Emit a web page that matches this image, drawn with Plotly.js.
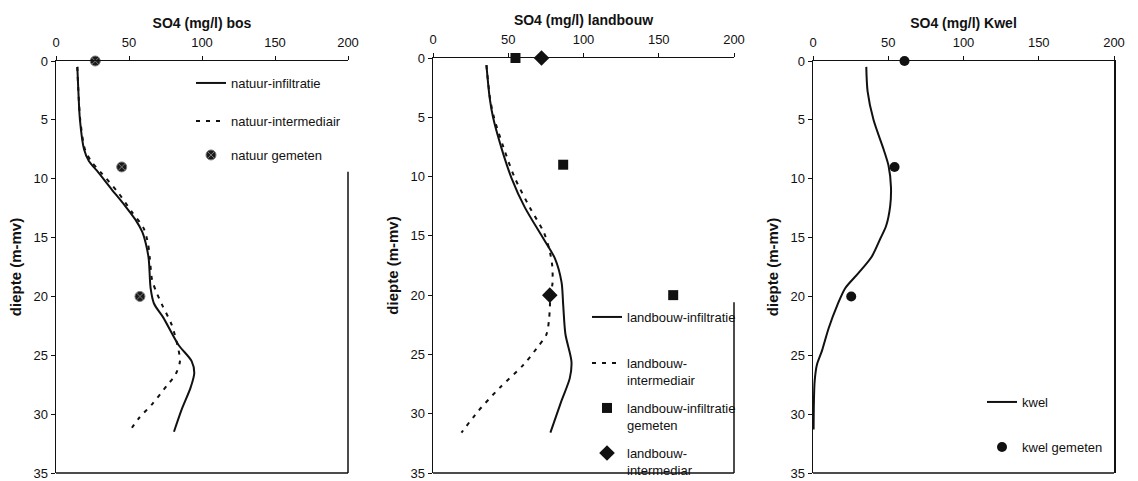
<!DOCTYPE html>
<html>
<head>
<meta charset="utf-8">
<script src="https://cdn.plot.ly/plotly-3.0.1.min.js"></script>
<style>
  html, body { margin: 0; padding: 0; background: #fff; overflow: hidden; }
  #chart { width: 1138px; height: 481px; }
</style>
</head>
<body>
<div id="chart"></div>
<script>
// SO4 depth profiles (mg/l) for forest, agriculture and seepage areas

// --- bos (forest) ---
const natuurInfDepth = [0.5, 2.5, 5, 7.5, 8.5, 9.3, 10.9, 12.3, 13.5, 14.5, 15.5, 16.8, 19.3, 20.6, 21.8, 24.1, 25.5, 26.5, 27.7, 29.6, 31.5];
const natuurInfSO4   = [14.6, 15.3, 16.4, 19.2, 22.5, 27.9, 38.1, 47.3, 54.5, 59.0, 61.5, 63.5, 64.8, 67.1, 73.5, 83.8, 92.9, 94.7, 92.3, 86.1, 80.8];

const natuurIntDepth = [0.5, 2.5, 5, 7.5, 8.5, 9.5, 11.2, 12.8, 14.2, 15.5, 16.8, 18.6, 19.7, 20.7, 22.4, 24.1, 25.5, 26.6, 27.6, 29.1, 30.4, 31.4];
const natuurIntSO4   = [14.6, 15.3, 16.6, 19.8, 24.0, 31.0, 42.7, 51.8, 60.0, 63.0, 64.3, 65.8, 69.0, 72.6, 79.2, 83.1, 84.9, 82.0, 75.8, 66.2, 56.4, 50.7];

const natuurMeasDepth = [0, 9, 20];
const natuurMeasSO4   = [26.9, 45.0, 57.5];

// --- landbouw (agriculture) ---
const landInfDepth = [0.6, 3.4, 5, 7.6, 10.1, 12.6, 15.2, 16.9, 18.9, 20.8, 23.3, 25.6, 27.0, 28.9, 31.6];
const landInfSO4   = [35.5, 37.7, 39.9, 45.5, 52.1, 61.0, 73.2, 81.0, 85.4, 86.5, 88.0, 92.0, 90.9, 85.4, 78.0];

const landIntDepth = [0.6, 3.4, 5, 7.6, 10.1, 12.6, 14.7, 16.1, 17.5, 19.0, 20.0, 21.9, 23.3, 24.5, 25.9, 27.8, 29.8, 31.6];
const landIntSO4   = [35.5, 37.9, 40.5, 47.0, 54.3, 64.3, 73.6, 77.2, 79.2, 79.4, 78.1, 77.2, 75.4, 68.8, 59.9, 44.4, 29.9, 18.9];

const landInfMeasDepth = [0, 9, 20];
const landInfMeasSO4   = [54.8, 86.5, 159.6];

const landIntMeasDepth = [0, 20];
const landIntMeasSO4   = [72.1, 77.6];

// --- kwel (seepage) ---
const kwelDepth = [0.5, 2.6, 5, 7.5, 8.9, 10.7, 12.3, 14.0, 15.1, 16.6, 18.0, 19.3, 20.7, 22.7, 24.6, 25.8, 27.2, 29.0, 31.3];
const kwelSO4   = [35.4, 36.3, 40.2, 46.9, 50.2, 51.8, 51.3, 48.6, 44.7, 39.1, 30.3, 21.4, 16.3, 10.4, 6.0, 2.6, 1.1, 0.6, 0.4];

const kwelMeasDepth = [0, 9, 20];
const kwelMeasSO4   = [60.8, 54.2, 25.4];

// axis and legend text
const panelTitles = ['SO4 (mg/l) bos', 'SO4 (mg/l) landbouw', 'SO4 (mg/l) Kwel'];
const depthTitle = 'diepte (m-mv)';
const xTicks = [0, 50, 100, 150, 200];
const yTicks = [0, 5, 10, 15, 20, 25, 30, 35];

const W = 1138, H = 481;
const INK = '#111';
const FONT = 'Liberation Sans, Arial, sans-serif';
const DASH = '4px,6px';

const px = v => v / W;
const py = v => 1 - v / H;

function curve(x, y, xa, ya, name, legend, dash) {
  return {
    type: 'scatter', mode: 'lines', x: x, y: y, xaxis: xa, yaxis: ya,
    name: name, legend: legend, hoverinfo: 'skip',
    line: { color: INK, width: 2, shape: 'spline', smoothing: 0.8, dash: dash || 'solid' }
  };
}
function points(x, y, xa, ya, name, legend, marker) {
  return {
    type: 'scatter', mode: 'markers', x: x, y: y, xaxis: xa, yaxis: ya,
    name: name, legend: legend, cliponaxis: false, hoverinfo: 'skip',
    marker: marker
  };
}

const traces = [
  curve(natuurInfSO4, natuurInfDepth, 'x', 'y', 'natuur-infiltratie', 'legend'),
  curve(natuurIntSO4, natuurIntDepth, 'x', 'y', 'natuur-intermediair', 'legend2', DASH),
  points(natuurMeasSO4, natuurMeasDepth, 'x', 'y', 'natuur gemeten', 'legend3',
    { symbol: 'circle-x', size: 10, color: '#1a1a1a', line: { color: '#7a7a7a', width: 1 } }),

  curve(landInfSO4, landInfDepth, 'x2', 'y2', 'landbouw-infiltratie', 'legend4'),
  curve(landIntSO4, landIntDepth, 'x2', 'y2', 'landbouw-<br>intermediair', 'legend5', DASH),
  points(landInfMeasSO4, landInfMeasDepth, 'x2', 'y2', 'landbouw-infiltratie<br>gemeten', 'legend6',
    { symbol: 'square', size: 10, color: INK, line: { color: INK, width: 0 } }),
  points(landIntMeasSO4, landIntMeasDepth, 'x2', 'y2', 'landbouw-<br>intermediar', 'legend7',
    { symbol: 'diamond', size: 12, color: INK, line: { color: INK, width: 0 } }),

  curve(kwelSO4, kwelDepth, 'x3', 'y3', 'kwel', 'legend8'),
  points(kwelMeasSO4, kwelMeasDepth, 'x3', 'y3', 'kwel gemeten', 'legend9',
    { symbol: 'circle', size: 10, color: INK, line: { color: INK, width: 0 } })
];

function xAxis(domain, title, yref) {
  return {
    domain: domain, anchor: yref, side: 'top', range: [0, 200],
    tickvals: xTicks, ticks: 'outside', ticklen: 4, tickwidth: 1, tickcolor: INK,
    showline: true, linecolor: INK, linewidth: 1.5, mirror: false,
    showgrid: false, zeroline: false, fixedrange: true,
    tickfont: { family: FONT, size: 13, color: INK },
    ticklabelstandoff: 3, ticklabeloverflow: 'allow',
    title: { text: '<b>' + title + '</b>', font: { family: FONT, size: 14, color: INK }, standoff: 3 }
  };
}
function yAxis(domain, xref, mirror) {
  return {
    domain: domain, anchor: xref, range: [35, 0],
    tickvals: yTicks, ticks: 'outside', ticklen: 4, tickwidth: 1, tickcolor: INK,
    showline: true, linecolor: INK, linewidth: 1.5, mirror: mirror,
    showgrid: false, zeroline: false, fixedrange: true,
    tickfont: { family: FONT, size: 13, color: INK },
    ticklabeloverflow: 'allow',
    title: { text: '<b>' + depthTitle + '</b>', font: { family: FONT, size: 15, color: INK }, standoff: 8 }
  };
}

function legendAt(leftPx, topPx) {
  return {
    x: px(leftPx), y: py(topPx), xanchor: 'left', yanchor: 'top',
    bgcolor: 'rgba(0,0,0,0)', borderwidth: 0, valign: 'top',
    itemclick: false, itemdoubleclick: false,
    font: { family: FONT, size: 13, color: INK }
  };
}

const yDom1 = [py(473), py(61)];
const yDom2 = [py(473), py(58)];

// frame line in an axis' domain coordinates
function frame(xa, ya, x0, x1, y0, y1) {
  return { type: 'line', xref: xa + ' domain', yref: ya + ' domain', x0: x0, x1: x1, y0: y0, y1: y1,
           line: { color: INK, width: 1.5 } };
}

const layout = {
  width: W, height: H,
  margin: { l: 0, r: 0, t: 0, b: 0, autoexpand: false },
  paper_bgcolor: '#fff', plot_bgcolor: '#fff',
  showlegend: true,
  xaxis:  xAxis([px(56), px(348)], panelTitles[0], 'y'),
  yaxis:  yAxis(yDom1, 'x', false),
  xaxis2: xAxis([px(433), px(734)], panelTitles[1], 'y2'),
  yaxis2: yAxis(yDom2, 'x2', false),
  xaxis3: xAxis([px(813), px(1114)], panelTitles[2], 'y3'),
  yaxis3: yAxis(yDom1, 'x3', true),

  legend:  legendAt(191, 68),
  legend2: legendAt(191, 106),
  legend3: legendAt(191, 140),
  legend4: legendAt(587, 302),
  legend5: legendAt(587, 348),
  legend6: legendAt(587, 393),
  legend7: legendAt(587, 438),
  legend8: legendAt(982, 387),
  legend9: legendAt(982, 432),

  // bottom frame for every panel, right frame below the legend blocks
  shapes: [
    frame('x', 'y', 0, 1, 0, 0),
    frame('x2', 'y2', 0, 1, 0, 0),
    frame('x3', 'y3', 0, 1, 0, 0),
    frame('x', 'y', 1, 1, 0, 1 - 9.4 / 35),
    frame('x2', 'y2', 1, 1, 0, 1 - 20.6 / 35)
  ]
};

Plotly.newPlot('chart', traces, layout, { displayModeBar: false, staticPlot: true });
</script>
</body>
</html>
